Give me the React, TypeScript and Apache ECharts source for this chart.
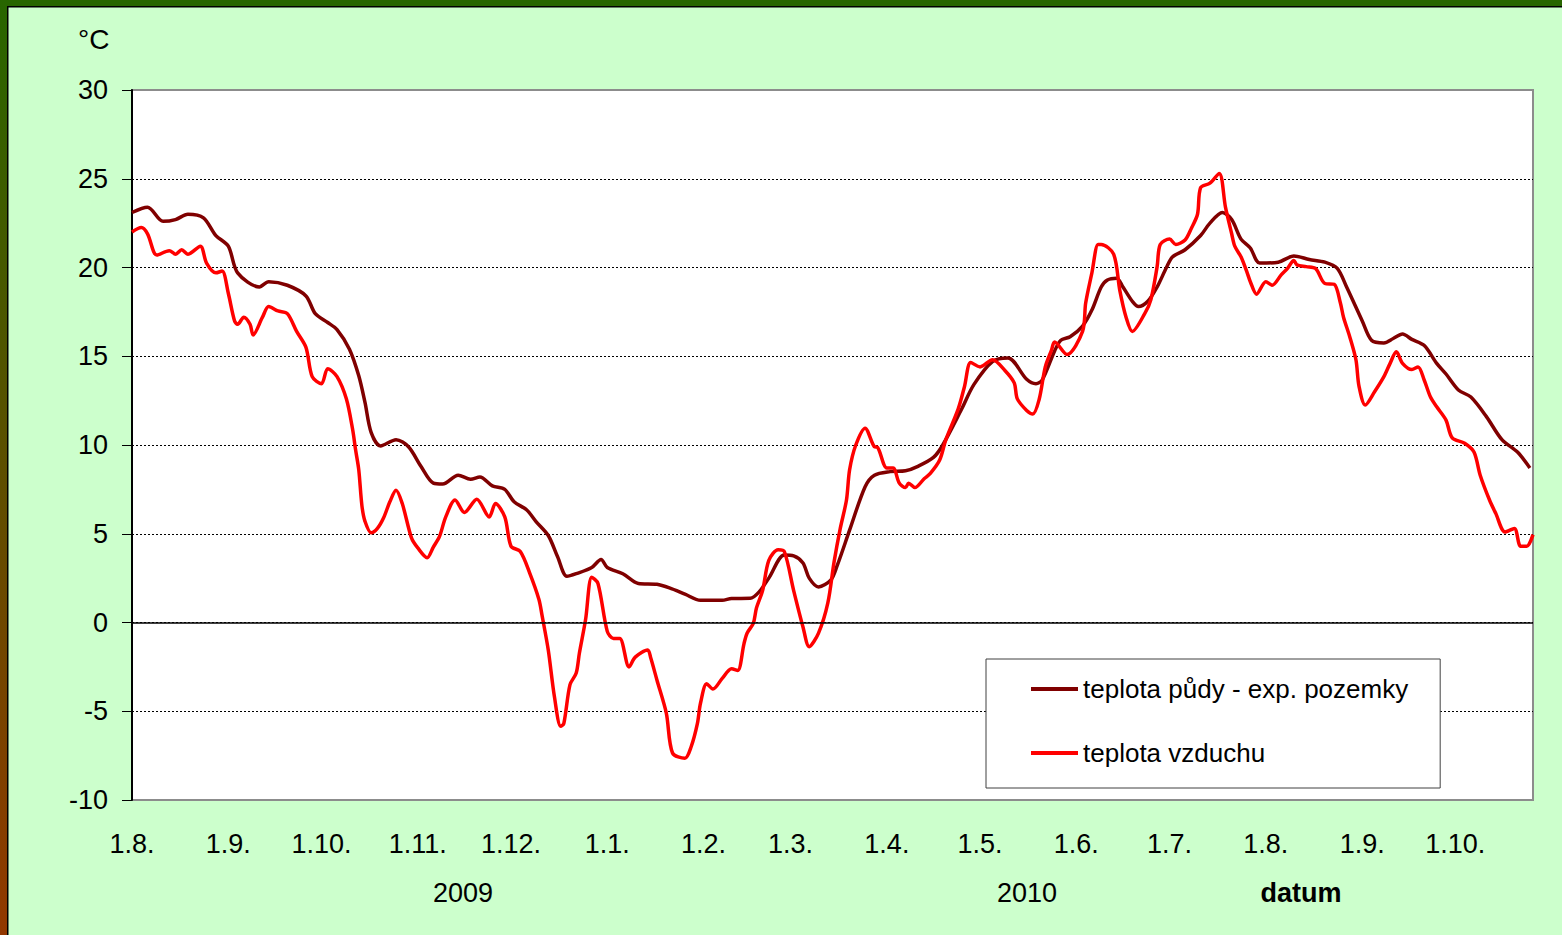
import React, { useEffect, useRef } from "react";
import * as echarts from "echarts";

const START_YEAR = 2009;
const START_MONTH = 7; // August (0-based)
const DAY_COUNT = 452;

const soilLabel = "teplota půdy - exp. pozemky";
const airLabel = "teplota vzduchu";

const yTicks = { min: -10, max: 30, step: 5 };
const yearLabels = ["2009", "2010"];
const axisTitle = "datum";
const unitLabel = "°C";

// [day index from 1.8.2009, °C]
const soilTemp: [number, number][] = [
  [0, 23.1], [5, 23.4], [10, 22.6], [14, 22.7], [18, 23.0], [23, 22.8], [27, 21.8], [31, 21.2],
  [34, 19.7], [41, 18.9], [44, 19.2], [50, 19.0], [56, 18.4], [59, 17.4], [63, 16.9], [66, 16.5],
  [70, 15.4], [73, 13.9], [75, 12.4], [77, 10.7], [80, 9.95], [85, 10.3], [89, 9.9], [93, 8.8],
  [97, 7.85], [100, 7.8], [105, 8.3], [109, 8.07], [112, 8.2], [116, 7.7], [120, 7.5], [123, 6.8],
  [127, 6.35], [130, 5.7], [134, 4.9], [137, 3.7], [140, 2.6], [143, 2.75], [148, 3.1], [151, 3.55],
  [153, 3.1], [158, 2.75], [163, 2.2], [169, 2.15], [173, 1.95], [178, 1.6], [183, 1.25], [190, 1.25],
  [193, 1.35], [199, 1.36], [202, 1.75], [205, 2.5], [210, 3.8], [213, 3.75], [216, 3.35], [218, 2.5],
  [221, 2.0], [225, 2.4], [227, 3.2], [231, 5.2], [236, 7.65], [239, 8.3], [244, 8.5], [249, 8.55],
  [253, 8.8], [258, 9.3], [261, 10.0], [267, 12.0], [271, 13.4], [277, 14.7], [282, 14.9], [288, 13.7],
  [291, 13.45], [293, 13.66], [297, 15.3], [299, 15.9], [302, 16.1], [306, 16.7], [309, 17.6], [312, 18.9],
  [314, 19.3], [317, 19.4], [319, 18.9], [322, 18.1], [324, 17.8], [327, 18.1], [330, 18.9], [333, 20.0],
  [335, 20.6], [339, 21.0], [344, 21.8], [347, 22.5], [351, 23.1], [354, 22.7], [357, 21.6], [360, 21.1],
  [363, 20.25], [369, 20.3], [374, 20.65], [379, 20.45], [384, 20.3], [388, 19.95], [391, 18.9], [396, 17.0],
  [399, 15.9], [403, 15.75], [406, 16.0], [409, 16.25], [412, 15.95], [416, 15.6], [420, 14.6], [423, 14.0],
  [427, 13.1], [431, 12.7], [436, 11.6], [441, 10.3], [446, 9.6], [450, 8.7],
];

const airTemp: [number, number][] = [
  [0, 22.0], [3, 22.25], [5, 21.9], [8, 20.7], [12, 20.95], [14, 20.75], [16, 21.0], [18, 20.75],
  [22, 21.2], [24, 20.25], [27, 19.7], [29, 19.8], [31, 18.55], [33, 17.0], [34, 16.8], [36, 17.2],
  [38, 16.8], [39, 16.2], [42, 17.2], [44, 17.8], [47, 17.55], [50, 17.4], [53, 16.4], [56, 15.5],
  [58, 13.85], [61, 13.45], [63, 14.3], [66, 13.85], [69, 12.6], [71, 10.9], [72, 9.7], [73, 8.6],
  [74, 6.6], [75, 5.7], [77, 5.05], [79, 5.3], [81, 5.9], [83, 6.8], [85, 7.45], [87, 6.7],
  [90, 4.75], [92, 4.2], [95, 3.65], [97, 4.25], [99, 4.85], [101, 5.95], [104, 6.9], [107, 6.2],
  [111, 6.95], [115, 5.95], [117, 6.7], [120, 5.95], [122, 4.3], [125, 4.0], [128, 2.8], [131, 1.3],
  [132, 0.4], [134, -1.55], [136, -4.2], [138, -5.85], [139, -5.7], [141, -3.5], [143, -2.85], [144, -1.75],
  [146, 0.15], [148, 2.55], [150, 2.2], [153, -0.5], [155, -0.9], [157, -0.9], [160, -2.5], [162, -1.95],
  [166, -1.55], [167, -2.0], [169, -3.25], [172, -5.1], [174, -7.35], [178, -7.65], [180, -7.0], [182, -5.7],
  [183, -4.55], [185, -3.45], [187, -3.75], [190, -3.15], [193, -2.6], [195, -2.7], [197, -1.2], [198, -0.6],
  [200, -0.05], [201, 0.8], [203, 1.8], [205, 3.5], [208, 4.1], [210, 4.0], [213, 1.8], [216, -0.25],
  [218, -1.36], [221, -0.6], [224, 1.1], [226, 3.4], [228, 5.3], [230, 6.9], [231, 8.6], [233, 10.0],
  [236, 10.95], [239, 9.9], [240, 9.87], [243, 8.7], [245, 8.7], [247, 7.85], [249, 7.6], [250, 7.85],
  [252, 7.6], [255, 8.1], [257, 8.4], [260, 9.15], [262, 10.3], [266, 12.05], [268, 13.3], [270, 14.65],
  [273, 14.4], [277, 14.8], [281, 14.2], [284, 13.5], [285, 12.6], [288, 11.95], [290, 11.75], [292, 12.55],
  [294, 14.4], [296, 15.35], [297, 15.8], [301, 15.1], [306, 16.4], [307, 18.0], [309, 19.7], [311, 21.3],
  [312, 21.3], [316, 20.75], [318, 18.7], [320, 17.2], [322, 16.4], [326, 17.4], [328, 18.2], [330, 20.05],
  [331, 21.3], [334, 21.6], [336, 21.3], [339, 21.55], [341, 22.2], [343, 23.0], [344, 24.5], [347, 24.75],
  [350, 25.3], [352, 23.4], [354, 21.9], [355, 21.2], [357, 20.6], [359, 19.7], [360, 19.2], [362, 18.5],
  [365, 19.2], [367, 19.0], [370, 19.6], [372, 19.95], [374, 20.4], [375, 20.15], [378, 20.05], [381, 19.95],
  [384, 19.1], [387, 19.05], [389, 18.0], [390, 17.2], [392, 16.1], [394, 14.8], [395, 13.3], [397, 12.25],
  [400, 13.0], [403, 13.85], [405, 14.6], [407, 15.25], [409, 14.6], [412, 14.25], [414, 14.4], [416, 13.65],
  [418, 12.7], [420, 12.15], [423, 11.4], [425, 10.4], [429, 10.1], [432, 9.6], [434, 8.3], [437, 6.9],
  [439, 6.15], [442, 5.1], [445, 5.3], [447, 4.3], [449, 4.3], [451, 4.95],
];

function buildDays(): string[] {
  const out: string[] = [];
  for (let i = 0; i < DAY_COUNT; i++) {
    const d = new Date(Date.UTC(START_YEAR, START_MONTH, 1 + i));
    out.push(`${d.getUTCFullYear()}-${d.getUTCMonth() + 1}-${d.getUTCDate()}`);
  }
  return out;
}

const FONT = "'Liberation Sans', Arial, sans-serif";

export default function App() {
  const ref = useRef<HTMLDivElement>(null);
  useEffect(() => {
    if (!ref.current) return;
    const chart = echarts.init(ref.current, undefined, { renderer: "svg" });
    const days = buildDays();
    chart.setOption({
      animation: false,
      backgroundColor: "#CCFFCC",
      textStyle: { fontFamily: FONT },
      grid: {
        left: 132,
        right: 29,
        top: 90,
        bottom: 135,
        show: true,
        backgroundColor: "#ffffff",
        borderColor: "#8c8c8c",
        borderWidth: 2,
      },
      legend: {
        orient: "vertical",
        left: 986,
        top: 659,
        padding: [15, 32, 20, 45],
        itemGap: 34,
        itemWidth: 47,
        itemHeight: 4,
        icon: "rect",
        backgroundColor: "#ffffff",
        borderColor: "#404040",
        borderWidth: 1,
        textStyle: { fontSize: 26, color: "#000", fontFamily: FONT, lineHeight: 30 },
        data: [soilLabel, airLabel],
      },
      xAxis: {
        type: "category",
        data: days,
        boundaryGap: false,
        axisLine: { show: false },
        axisTick: { show: false },
        splitLine: { show: false },
        axisLabel: {
          interval: (_i: number, v: string) => v.endsWith("-1"),
          formatter: (v: string) => {
            const p = v.split("-");
            return `${p[2]}.${p[1]}.`;
          },
          fontSize: 27,
          color: "#000",
          margin: 30,
          fontFamily: FONT,
        },
      },
      yAxis: {
        type: "value",
        min: yTicks.min,
        max: yTicks.max,
        interval: yTicks.step,
        axisLine: { show: true, lineStyle: { color: "#000", width: 2 } },
        axisTick: { show: true, length: 10, lineStyle: { color: "#000", width: 1 } },
        axisLabel: { fontSize: 27, color: "#000", margin: 24, fontFamily: FONT },
        splitLine: {
          show: true,
          showMinLine: false,
          showMaxLine: false,
          lineStyle: { color: "#000", type: [2, 2], width: 1 },
        },
      },
      series: [
        {
          name: soilLabel,
          type: "line",
          data: soilTemp,
          symbol: "none",
          smooth: 0.3,
          lineStyle: { color: "#800000", width: 3.5 },
          itemStyle: { color: "#800000" },
          markLine: {
            silent: true,
            symbol: "none",
            label: { show: false },
            lineStyle: { color: "#000", type: "solid", width: 1.5 },
            data: [{ yAxis: 0 }],
          },
          z: 3,
        },
        {
          name: airLabel,
          type: "line",
          data: airTemp,
          symbol: "none",
          smooth: 0.3,
          lineStyle: { color: "#ff0000", width: 3.5 },
          itemStyle: { color: "#ff0000" },
          z: 4,
        },
      ],
      graphic: [
        { type: "rect", z: 100, shape: { x: 0, y: 0, width: 1562, height: 7 }, style: { fill: "#286600" } },
        {
          type: "rect",
          z: 100,
          shape: { x: 0, y: 0, width: 7, height: 935 },
          style: {
            fill: new echarts.graphic.LinearGradient(0, 0, 0, 1, [
              { offset: 0, color: "#286600" },
              { offset: 1, color: "#923800" },
            ]),
          },
        },
        { type: "rect", z: 101, shape: { x: 7, y: 6, width: 1555, height: 1.5 }, style: { fill: "#000" } },
        { type: "rect", z: 101, shape: { x: 7, y: 6, width: 1.5, height: 929 }, style: { fill: "#000" } },
        {
          type: "text",
          left: 78,
          top: 25,
          style: { text: unitLabel, fontSize: 28, fill: "#000", fontFamily: FONT },
        },
        {
          type: "text",
          x: 463,
          y: 893,
          style: { text: yearLabels[0], fontSize: 27, fill: "#000", fontFamily: FONT, align: "center", verticalAlign: "middle" },
        },
        {
          type: "text",
          x: 1027,
          y: 893,
          style: { text: yearLabels[1], fontSize: 27, fill: "#000", fontFamily: FONT, align: "center", verticalAlign: "middle" },
        },
        {
          type: "text",
          x: 1301,
          y: 893,
          style: { text: axisTitle, fontSize: 27, fontWeight: "bold", fill: "#000", fontFamily: FONT, align: "center", verticalAlign: "middle" },
        },
      ],
    });
    return () => chart.dispose();
  }, []);
  return (
    <div
      ref={ref}
      style={{ position: "absolute", left: 0, top: 0, width: 1562, height: 935 }}
    />
  );
}
